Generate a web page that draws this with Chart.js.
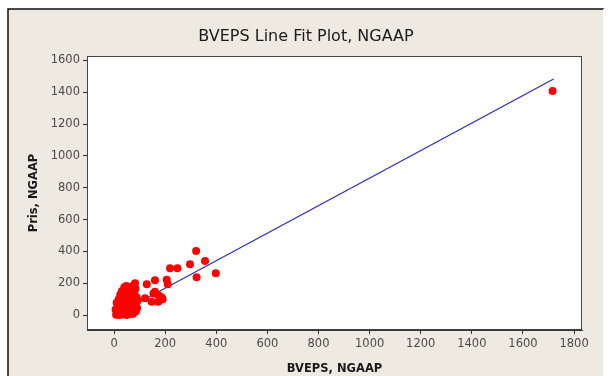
<!DOCTYPE html>
<html>
<head>
<meta charset="utf-8">
<script src="https://cdn.jsdelivr.net/npm/chart.js@4.4.1/dist/chart.umd.min.js"></script>
<style>
  html, body { margin: 0; padding: 0; background: #ffffff; }
  #wrap { width: 608px; height: 376px; }
</style>
</head>
<body>
<div id="wrap"><canvas id="c" width="608" height="376"></canvas></div>
<script>
const chartTitle = "BVEPS Line Fit Plot, NGAAP";
const xAxisTitle = "BVEPS, NGAAP";
const yAxisTitle = "Pris, NGAAP";

const xTickValues = [0, 200, 400, 600, 800, 1000, 1200, 1400, 1600, 1800];
const yTickValues = [0, 200, 400, 600, 800, 1000, 1200, 1400, 1600];

const bveps = [
  8, 20, 33, 48, 60, 74,
  12, 27, 42, 57, 72, 85,
  6, 22, 36, 50, 64, 78, 90,
  15, 28, 44, 58, 70, 84,
  10, 25, 38, 52, 66, 80, 92,
  18, 32, 46, 60, 74, 88,
  24, 38, 52, 66, 80,
  30, 45, 58, 70, 84,
  40, 54, 66, 78, 82, 48,
  121, 128, 147, 154, 160, 160, 173, 173, 186, 190,
  206, 210, 219, 248, 297, 321, 323, 356, 398,
  1716
];
const pris = [
  2, 0, 3, 1, 5, 8,
  15, 12, 18, 14, 10, 22,
  35, 30, 38, 32, 36, 30, 45,
  55, 60, 52, 58, 50, 62,
  78, 85, 75, 82, 88, 76, 90,
  100, 108, 102, 110, 104, 112,
  128, 135, 125, 138, 130,
  150, 160, 150, 158, 165,
  175, 172, 178, 185, 200, 182,
  105, 193, 84, 136, 147, 218, 126, 84, 112, 100,
  222, 193, 294, 294, 319, 403, 237, 340, 262,
  1408
];

// Fitted regression line end points
const fitX = [0, 1720];
const fitY = [-5, 1483];

const points = bveps.map((v, i) => ({ x: v, y: pris[i] }));
const linePts = fitX.map((v, i) => ({ x: v, y: fitY[i] }));

const frameAndTitle = {
  id: 'frameAndTitle',
  beforeDraw(chart) {
    const ctx = chart.ctx;
    const a = chart.chartArea;
    ctx.save();
    ctx.fillStyle = '#ffffff';
    ctx.fillRect(0, 0, chart.width, chart.height);
    ctx.fillStyle = '#EEEAE1';
    ctx.fillRect(8, 9, 596, chart.height - 9);
    ctx.strokeStyle = '#111111';
    ctx.lineWidth = 1.5;
    ctx.beginPath();
    ctx.moveTo(8, chart.height);
    ctx.lineTo(8, 9);
    ctx.lineTo(604, 9);
    ctx.stroke();
    ctx.strokeStyle = '#ffffff';
    ctx.lineWidth = 1;
    ctx.beginPath();
    ctx.moveTo(603.5, 9);
    ctx.lineTo(603.5, chart.height);
    ctx.stroke();
    ctx.fillStyle = '#ffffff';
    ctx.fillRect(a.left, a.top, a.right - a.left, a.bottom - a.top);
    ctx.restore();
  },
  afterDraw(chart) {
    const ctx = chart.ctx;
    const a = chart.chartArea;
    ctx.save();
    ctx.strokeStyle = '#444444';
    ctx.lineWidth = 1;
    ctx.strokeRect(a.left + 0.5, a.top + 0.5, a.right - a.left - 1, a.bottom - a.top - 1);
    ctx.fillStyle = '#1a1a1a';
    ctx.font = '16px "DejaVu Sans"';
    ctx.textAlign = 'center';
    ctx.textBaseline = 'middle';
    ctx.fillText(chartTitle, 306, 37);
    ctx.restore();
  }
};

const tickFont = { family: 'DejaVu Sans', size: 11.5 };
const titleFont = { family: 'DejaVu Sans', size: 11.5, weight: 'bold' };
const plainLabel = v => String(v);

new Chart(document.getElementById('c'), {
  type: 'scatter',
  data: {
    datasets: [
      {
        label: 'Pris',
        data: points,
        backgroundColor: '#ff0000',
        borderWidth: 0,
        pointRadius: 4,
        pointHoverRadius: 4,
        pointStyle: 'circle',
        order: 1
      },
      {
        type: 'line',
        label: 'Fit',
        data: linePts,
        borderColor: '#2b2bc0',
        borderWidth: 1.2,
        pointRadius: 0,
        fill: false,
        order: 2
      }
    ]
  },
  options: {
    responsive: false,
    animation: false,
    devicePixelRatio: 1,
    layout: { padding: { left: 8, right: 26, top: 56, bottom: 0 } },
    plugins: {
      legend: { display: false },
      title: { display: false },
      tooltip: { enabled: false }
    },
    scales: {
      x: {
        type: 'linear',
        min: -106,
        max: 1831,
        afterBuildTicks: s => { s.ticks = xTickValues.map(v => ({ value: v })); },
        afterFit: s => { s.height = 46; },
        ticks: { font: tickFont, color: '#4a4a4a', padding: 3, maxRotation: 0, autoSkip: false, callback: plainLabel },
        grid: { drawOnChartArea: false, drawTicks: true, tickLength: 4, color: '#333333' },
        border: { display: true, color: '#333333', width: 1 },
        title: { display: true, text: xAxisTitle, font: titleFont, color: '#1a1a1a', padding: { top: 0, bottom: 0 } }
      },
      y: {
        type: 'linear',
        min: -94,
        max: 1628,
        afterBuildTicks: s => { s.ticks = yTickValues.map(v => ({ value: v })); },
        afterFit: s => { s.width = 79; },
        ticks: { font: tickFont, color: '#4a4a4a', padding: 3, autoSkip: false, callback: plainLabel },
        grid: { drawOnChartArea: false, drawTicks: true, tickLength: 4, color: '#333333' },
        border: { display: true, color: '#333333', width: 1 },
        title: { display: true, text: yAxisTitle, font: titleFont, color: '#1a1a1a', padding: { top: 19, bottom: 0 } }
      }
    }
  },
  plugins: [frameAndTitle]
});
</script>
</body>
</html>
